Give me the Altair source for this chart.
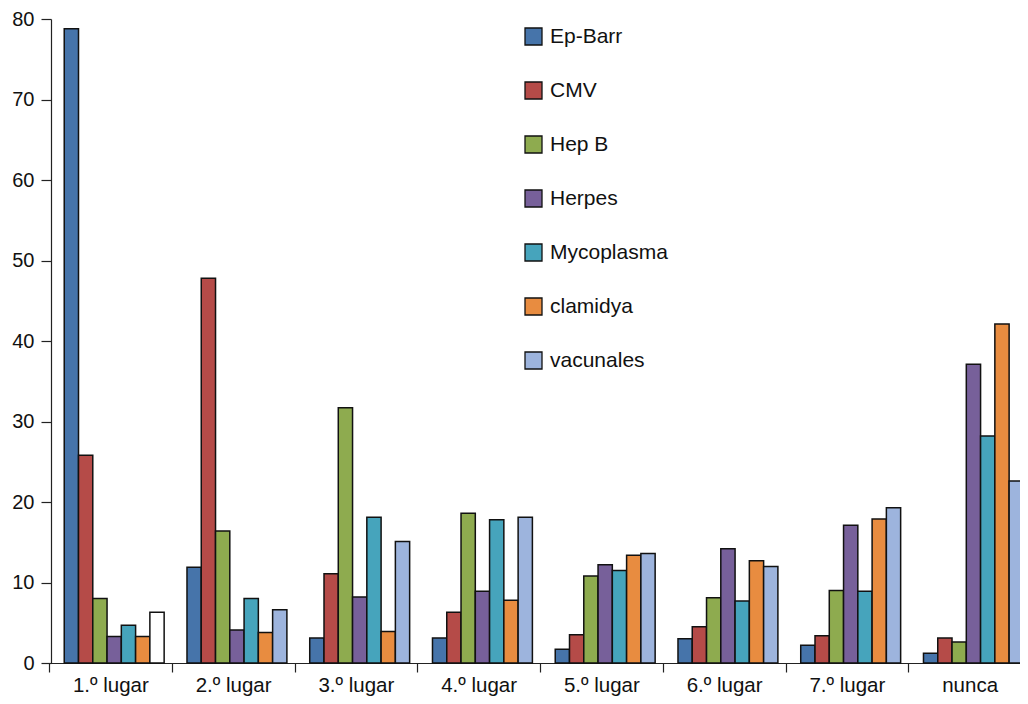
import altair as alt
import pandas as pd

grupos = ["1.º lugar", "2.º lugar", "3.º lugar", "4.º lugar", "5.º lugar", "6.º lugar", "7.º lugar", "nunca"]
series = ["Ep-Barr", "CMV", "Hep B", "Herpes", "Mycoplasma", "clamidya", "vacunales"]

ep_barr = [78.8, 11.9, 3.1, 3.1, 1.7, 3.0, 2.2, 1.2]
cmv = [25.8, 47.8, 11.1, 6.3, 3.5, 4.5, 3.4, 3.1]
hep_b = [8.0, 16.4, 31.7, 18.6, 10.8, 8.1, 9.0, 2.6]
herpes = [3.3, 4.1, 8.2, 8.9, 12.2, 14.2, 17.1, 37.1]
mycoplasma = [4.7, 8.0, 18.1, 17.8, 11.5, 7.7, 8.9, 28.2]
clamidya = [3.3, 3.8, 3.9, 7.8, 13.4, 12.7, 17.9, 42.1]
vacunales = [6.3, 6.6, 15.1, 18.1, 13.6, 12.0, 19.3, 22.6]

colores = ["#4674AA", "#B54B48", "#8EAB4F", "#77609A", "#46A4BC", "#E88C40", "#9DB4DD"]

rows = []
for s, vals in zip(series, [ep_barr, cmv, hep_b, herpes, mycoplasma, clamidya, vacunales]):
    for g, v in zip(grupos, vals):
        rows.append({"grupo": g, "serie": s, "valor": v})
df = pd.DataFrame(rows)

FONT = "Liberation Sans"

chart = alt.Chart(df).mark_bar(stroke="#111111", strokeWidth=1.5).encode(
    x=alt.X(
        "grupo:N",
        sort=grupos,
        scale=alt.Scale(range=[-2, 980], paddingInner=0, paddingOuter=0),
        axis=alt.Axis(
            title=None, labelAngle=0, tickBand="extent", tickSize=9,
            labelFontSize=20.5, labelPadding=3, labelFont=FONT, labelColor="#111111",
            domainColor="#222222", tickColor="#222222", domainWidth=1.2, tickWidth=1.2,
        ),
    ),
    xOffset=alt.XOffset(
        "serie:N", sort=series,
        scale=alt.Scale(paddingInner=0, paddingOuter=0.8, align=0.667),
    ),
    y=alt.Y(
        "valor:Q",
        scale=alt.Scale(domain=[0, 80], nice=False),
        axis=alt.Axis(
            title=None, values=[0, 10, 20, 30, 40, 50, 60, 70, 80], grid=False,
            tickSize=10, labelPadding=7, labelFontSize=20, labelFont=FONT,
            labelColor="#111111", domainColor="#222222", tickColor="#222222",
            domainWidth=1.2, tickWidth=1.2,
        ),
    ),
    color=alt.condition(
        "datum.grupo == '1.º lugar' && datum.serie == 'vacunales'",
        alt.value("white"),
        alt.Color(
            "serie:N", sort=series,
            scale=alt.Scale(domain=series, range=colores),
            legend=alt.Legend(
                title=None, orient="none", legendX=472, legendY=7,
                symbolType="square", symbolSize=289, symbolStrokeColor="#111111",
                symbolStrokeWidth=1.3, symbolOpacity=1,
                labelFontSize=21, labelFont=FONT, labelColor="#111111",
                labelOffset=6, rowPadding=31, padding=0,
            ),
        ),
    ),
).properties(
    width=969,
    height=644,
    autosize=alt.AutoSizeParams(type="none"),
    padding={"left": 43, "top": 11, "right": 0, "bottom": 33},
).configure_view(strokeWidth=0)

chart.save("out.html", embed_options={"renderer": "svg", "actions": False})
